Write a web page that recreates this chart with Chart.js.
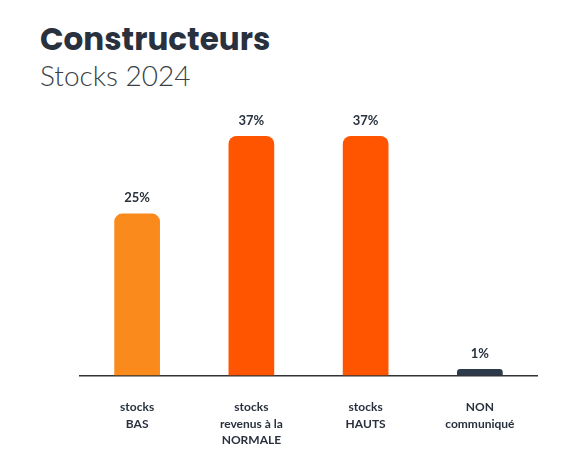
<!DOCTYPE html>
<html>
<head>
<meta charset="utf-8">
<script src="https://cdn.jsdelivr.net/npm/chart.js@4"></script>
<style>
  html, body { margin: 0; padding: 0; background: #fff; }
  #wrap { position: relative; width: 586px; height: 463px; }
  #title { position: absolute; left: 40px; top: 16px; font: 700 31px Poppins, Lato, sans-serif; color: #28313d; }
  #sub { position: absolute; left: 40px; top: 58px; font: 300 28px Lato, sans-serif; color: #3a3f46; }
  canvas { position: absolute; left: 0; top: 0; }
</style>
</head>
<body>
<div id="wrap">
  <div id="title">Constructeurs</div>
  <div id="sub">Stocks 2024</div>
  <canvas id="c" width="586" height="463"></canvas>
</div>
<script>
'use strict';

const categories = [['stocks', 'BAS'], ['stocks', 'revenus à la', 'NORMALE'], ['stocks', 'HAUTS'], ['NON', 'communiqué']];
const values = [25, 37, 37, 1];
const barColors = ['#fa8a1c', '#ff5500', '#ff5500', '#2d3a4b'];

// étiquettes de valeur au-dessus des barres
const valueLabels = {
    id: 'valueLabels',
    afterDatasetsDraw(chart) {
        const ctx = chart.ctx;
        const meta = chart.getDatasetMeta(0);
        ctx.save();
        ctx.font = 'bold 13px Lato, sans-serif';
        ctx.fillStyle = '#28313d';
        ctx.textAlign = 'center';
        ctx.textBaseline = 'bottom';
        meta.data.forEach((bar, i) => {
            ctx.fillText(values[i] + '%', bar.x, bar.y - 9);
        });
        ctx.restore();
    }
};

new Chart(document.getElementById('c'), {
    type: 'bar',
    data: {
        labels: categories,
        datasets: [{
            data: values,
            backgroundColor: barColors,
            borderRadius: { topLeft: 8, topRight: 8 },
            borderSkipped: 'bottom',
            barPercentage: 0.4,
            categoryPercentage: 1
        }]
    },
    options: {
        responsive: false,
        animation: false,
        layout: { padding: { left: 80, right: 49, top: 110, bottom: -9 } },
        plugins: { legend: { display: false }, tooltip: { enabled: false } },
        scales: {
            y: { display: false, min: 0, max: 41 },
            x: {
                grid: { display: false, drawTicks: false },
                border: { display: true, color: '#333', width: 1.5 },
                ticks: {
                    color: '#28313d',
                    font: { family: 'Lato, sans-serif', weight: 'bold', size: 12, lineHeight: 1.35 },
                    padding: 24,
                    maxRotation: 0
                }
            }
        }
    },
    plugins: [valueLabels]
});
</script>
</body>
</html>
